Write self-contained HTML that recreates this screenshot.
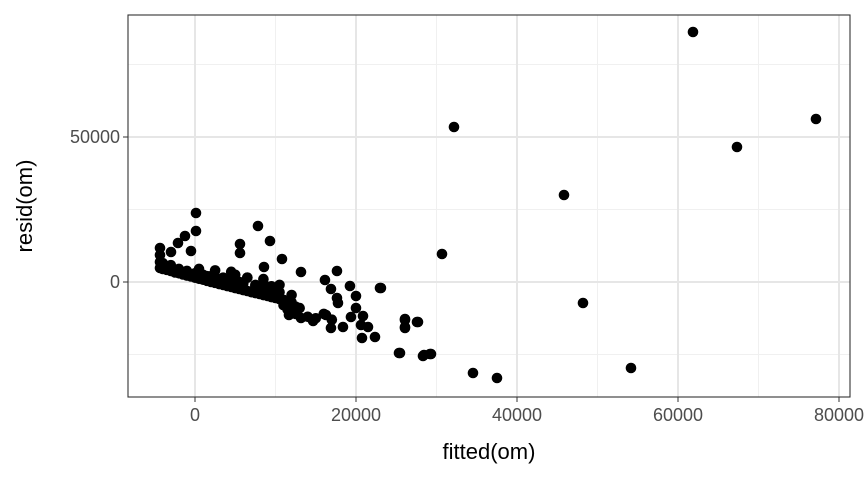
<!DOCTYPE html>
<html><head><meta charset="utf-8"><style>
body{margin:0;background:#fff;}
svg text{font-family:"Liberation Sans",sans-serif;}
</style></head><body>
<svg id="chart" width="864" height="480"></svg>
<script>
const xs=[61863,67329,77143,32174,45839,30683,48199,54161,34534,37516,25342,28447,29193,26087,26087,27702,22981,
-4347,-4347,-4347,-4347,124,124,-1242,-2112,-2981,-497,7826,9317,5590,5590,10807,8571,13168,17638,16146,19251,23101,20000,16891,17638,17763,20000,20870,21491,22360,20745,26087,26087,27578,25466,28323,29317,14671,13168,11677,16270,16891,18383,19375,20621,
-4000,-4000,-3500,-3500,-3000,-3000,-2500,-2000,-2000,-1500,-1000,-1000,-500,0,0,500,500,1000,1000,1500,2000,2000,2500,2500,3000,3000,3500,4000,4000,4500,4500,5000,5000,5500,5500,6000,6000,6500,6500,7000,7500,7500,8000,8000,8500,8500,9000,9000,9500,9500,10000,10500,10500,11000,11000,11500,11500,12000,12000,12500,12500,13000,14000,15000,16000,17000,
1500,3500,5500,7500,9500,4500,6500,8500,10500,12000];
const ys=[86207,46552,56207,53448,30000,9655,-7241,-29655,-31379,-33103,-24483,-25172,-24828,-13103,-15517,-13793,-2069,
11724,9310,6897,4828,23793,17586,15862,13448,10345,10690,19310,14138,13103,10000,7931,5172,3448,3793,690,-1379,-2069,-4828,-2414,-5517,-7241,-8966,-11724,-15517,-18966,-19310,-12759,-15862,-13793,-24483,-25517,-24828,-13448,-12414,-11379,-11379,-15862,-15517,-12069,-14828,
4500,6500,4200,5500,3800,5800,3300,3000,4500,2600,2200,3800,1900,1500,3000,1100,4500,800,2500,400,0,2000,-300,4000,-700,1000,-1000,-1400,1000,-1700,500,-2100,2500,-2400,0,-2800,-500,-3100,1500,-3500,-3800,-1000,-4100,-2000,-4500,1000,-4800,-2500,-5200,-1500,-5500,-5900,-3500,-6200,-8000,-6600,-9500,-10000,-7000,-11000,-8500,-9000,-12000,-12500,-11000,-13000,
2000,1500,0,-1500,-3000,3500,1500,-500,-1000,-4500];
const xTicks=[0,20000,40000,60000,80000];
const yTicks=[0,50000];
const xMinor=[10000,30000,50000,70000];
const yMinor=[-25000,25000,75000];
const L=128,R=850,T=15,B=397;
const X=v=>195+(v)/20000*161;
const Y=v=>282-(v)/50000*145;
const svg=document.getElementById('chart');
const NS='http://www.w3.org/2000/svg';
function mk(t,a,p){const e=document.createElementNS(NS,t);for(const k in a)e.setAttribute(k,a[k]);(p||svg).appendChild(e);return e;}
const bg=mk('rect',{x:L,y:T,width:R-L,height:B-T,fill:'#fff'});


xMinor.forEach(v=>{const l=mk('line',{x1:X(v),x2:X(v),y1:T,y2:B,stroke:'#f0f0f0','stroke-width':1});

});
yMinor.forEach(v=>{const l=mk('line',{x1:L,x2:R,y1:Y(v),y2:Y(v),stroke:'#f0f0f0','stroke-width':1});

});
xTicks.forEach(v=>{const l=mk('line',{x1:X(v),x2:X(v),y1:T,y2:B,stroke:'#e6e6e6','stroke-width':2});


const t=mk('line',{x1:X(v),x2:X(v),y1:B,y2:B+5,stroke:'#333','stroke-width':1});


const tx=mk('text',{x:X(v),y:B+24,'text-anchor':'middle','font-size':18,fill:'#4d4d4d'});tx.textContent=v;

});
yTicks.forEach(v=>{const l=mk('line',{x1:L,x2:R,y1:Y(v),y2:Y(v),stroke:'#e6e6e6','stroke-width':2});


const t=mk('line',{x1:L-5,x2:L,y1:Y(v),y2:Y(v),stroke:'#333','stroke-width':1});


const tx=mk('text',{x:L-8,y:Y(v)+6,'text-anchor':'end','font-size':18,fill:'#4d4d4d'});tx.textContent=v;

});
xs.forEach((v,i)=>{const c=mk('circle',{cx:X(v),cy:Y(ys[i]),r:5.3,fill:'#000'});

});
const br=mk('rect',{x:L,y:T,width:R-L,height:B-T,fill:'none',stroke:'#333','stroke-width':1.1});


const xl=mk('text',{x:(L+R)/2,y:459,'text-anchor':'middle','font-size':22,fill:'#000'});xl.textContent='fitted(om)';


const yl=mk('text',{x:0,y:0,'text-anchor':'middle','font-size':22,fill:'#000',transform:`translate(32,${(T+B)/2}) rotate(-90)`});yl.textContent='resid(om)';


</script>
</body></html>
